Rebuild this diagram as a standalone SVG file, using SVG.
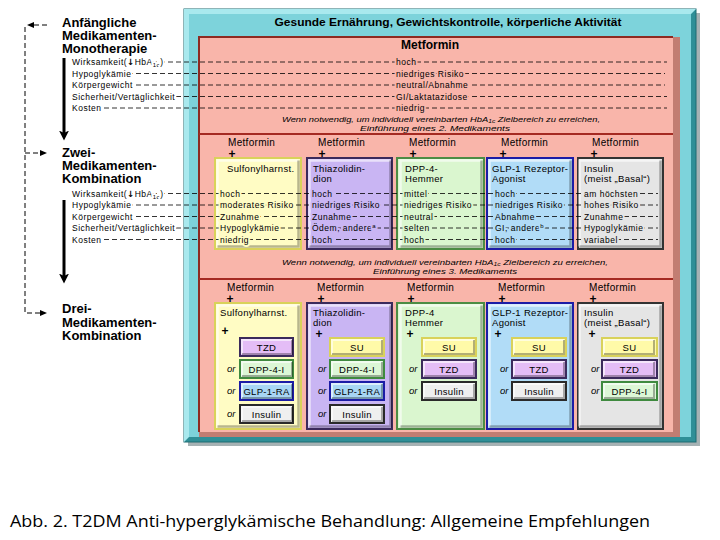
<svg xmlns="http://www.w3.org/2000/svg" width="720" height="540" viewBox="0 0 720 540">
<defs>
<style>
text{font-family:"Liberation Sans",Arial,sans-serif;fill:#000}
.ttl{font-size:13px;font-weight:bold}
.sm{font-size:8.5px;letter-spacing:0.5px}
.md{font-size:9.5px;letter-spacing:0.3px}
.mf{font-size:10px;letter-spacing:0.3px}
.pl{font-size:12px;font-weight:bold;text-anchor:middle}
.it{font-size:7.8px;font-style:italic;text-anchor:middle}
.or{font-size:9.5px;font-style:italic}
.sb{font-size:9.5px;letter-spacing:0.3px;text-anchor:middle}
.dash{stroke:#000;stroke-width:0.8;stroke-dasharray:5 3;fill:none}
.ldash{stroke:#000;stroke-width:1;stroke-dasharray:5 3;fill:none}
.mk{stroke-width:4px;stroke-linejoin:round;paint-order:stroke}
.mw{stroke:#fff}.ms{stroke:#f9b5aa}.my{stroke:#fffcc4}.mp{stroke:#c9b5f3}.mg{stroke:#daf6cf}.mb{stroke:#b1dcf7}.mgr{stroke:#e5e5e5}
.hl{fill:none;stroke:rgba(255,255,255,0.6);stroke-width:2.5}
.sh{fill:none;stroke:rgba(0,0,0,0.28);stroke-width:2.5}
.hl2{fill:none;stroke:rgba(255,255,255,0.6);stroke-width:2}
.sh2{fill:none;stroke:rgba(0,0,0,0.3);stroke-width:2}
.yel{fill:#fffcc4;stroke:#d9d25a;stroke-width:2}
.pur{fill:#c9b5f3;stroke:#3b2a5c;stroke-width:2}
.grn{fill:#daf6cf;stroke:#4c8c44;stroke-width:2}
.blu{fill:#b1dcf7;stroke:#1c1ca6;stroke-width:2}
.gry{fill:#e5e5e5;stroke:#333;stroke-width:2}
.su{fill:#fffaa8;stroke:#d9d25a;stroke-width:2}
.tzd{fill:#e4bdf6;stroke:#3b2a5c;stroke-width:2}
.dpp{fill:#dcf7d6;stroke:#3f8a3f;stroke-width:2}
.glp{fill:#a8d6f4;stroke:#1c1ca6;stroke-width:2}
.ins{fill:#efefef;stroke:#2a2a2a;stroke-width:2}
.red{stroke:#a52a22;stroke-width:2}
</style>
<g id="bevM"><path class="hl" d="M2.5,88.5 V2.5 H83.5"/><path class="sh" d="M2.5,88.5 H83.5 V2.5"/></g>
<g id="bevL"><path class="hl" d="M2.5,123.5 V2.5 H83.5"/><path class="sh" d="M2.5,123.5 H83.5 V2.5"/></g>
<g id="bevS"><path class="hl2" d="M2,16 V2 H52"/><path class="sh2" d="M2,16 H52 V2"/></g>
<marker id="al" markerUnits="userSpaceOnUse" markerWidth="7" markerHeight="6" refX="2" refY="3" orient="auto"><path d="M0,0 L7,3 L0,6 z" fill="#000"/></marker>
<marker id="ab" markerUnits="userSpaceOnUse" markerWidth="10" markerHeight="10" refX="2.5" refY="5" orient="auto"><path d="M0,0 L10,5 L0,10 L2.5,5 z" fill="#000"/></marker>
</defs>
<rect width="720" height="540" fill="#fff"/>

<g id="lifestyle">
<rect x="188" y="13" width="512" height="433" fill="#a6b2b4"/>
<rect x="184" y="9" width="512" height="433" fill="#2f8f97" stroke="#1f6a70" stroke-width="1"/>
<polygon points="184,9 696,9 691,14 189,14 189,437 184,442" fill="#a9e9ee"/>
<rect x="189" y="14" width="502" height="423" fill="#7dd3db"/>
<text x="448" y="25.5" style="font-size:11.5px;font-weight:bold" text-anchor="middle" textLength="347" lengthAdjust="spacingAndGlyphs">Gesunde Ernährung, Gewichtskontrolle, körperliche Aktivität</text>
</g>

<g id="metformin">
<rect x="199" y="37" width="481" height="400" fill="#c27d72"/>
<rect x="198" y="36" width="475" height="396" fill="#f9b5aa"/>
<path d="M199,432 V37 H673" fill="none" stroke="#8e2a22" stroke-width="2"/>
<text x="430" y="49" style="font-size:12px;font-weight:bold" text-anchor="middle">Metformin</text>
<text class="it" x="441" y="121.5" textLength="318" lengthAdjust="spacingAndGlyphs">Wenn notwendig, um individuell vereinbarten HbA<tspan dy="1.5" font-size="5.5">1c</tspan><tspan dy="-1.5"> Zielbereich zu erreichen,</tspan></text>
<text class="it" x="435" y="130.5" textLength="150" lengthAdjust="spacingAndGlyphs">Einführung eines 2. Medikaments</text>
<line class="red" x1="199" y1="134" x2="673" y2="134"/>
<text class="it" x="445" y="264.8" textLength="326" lengthAdjust="spacingAndGlyphs">Wenn notwendig, um individuell vereinbarten HbA<tspan dy="1.5" font-size="5.5">1c</tspan><tspan dy="-1.5"> Zielbereich zu erreichen,</tspan></text>
<text class="it" x="445" y="273.8" textLength="144" lengthAdjust="spacingAndGlyphs">Einführung eines 3. Medikaments</text>
<line class="red" x1="199" y1="279" x2="673" y2="279"/>
</g>

<g id="left-labels">
<text class="ttl" x="62" y="27">Anfängliche</text>
<text class="ttl" x="62" y="40">Medikamenten-</text>
<text class="ttl" x="62" y="53">Monotherapie</text>
<text class="ttl" x="62" y="157">Zwei-</text>
<text class="ttl" x="62" y="170">Medikamenten-</text>
<text class="ttl" x="62" y="183">Kombination</text>
<text class="ttl" x="62" y="313">Drei-</text>
<text class="ttl" x="62" y="326.5">Medikamenten-</text>
<text class="ttl" x="62" y="339.5">Kombination</text>
</g>

<g id="dual-boxes">
<g id="m-su"><rect class="yel" x="215" y="158" width="86" height="91"/><use href="#bevM" x="215" y="158"/>
<text class="mf" x="228" y="145.5">Metformin</text><text class="pl" x="232" y="157.5">+</text>
<text class="md" x="227" y="171.5">Sulfonylharnst.</text></g>
<g id="m-tzd"><rect class="pur" x="307" y="158" width="85" height="91"/><use href="#bevM" x="307" y="158"/>
<text class="mf" x="318" y="145.5">Metformin</text><text class="pl" x="322" y="157.5">+</text>
<text class="md" x="313" y="171.5">Thiazolidin-</text><text class="md" x="313" y="181.5">dion</text></g>
<g id="m-dpp"><rect class="grn" x="397" y="158" width="87" height="91"/><use href="#bevM" x="398" y="158"/>
<text class="mf" x="409" y="145.5">Metformin</text><text class="pl" x="413" y="157.5">+</text>
<text class="md" x="405" y="171.5">DPP-4-</text><text class="md" x="405" y="181.5">Hemmer</text></g>
<g id="m-glp"><rect class="blu" x="487" y="158" width="86" height="91"/><use href="#bevM" x="487" y="158"/>
<text class="mf" x="501" y="145.5">Metformin</text><text class="pl" x="503" y="157.5">+</text>
<text class="md" x="492" y="171.5">GLP-1 Rezeptor-</text><text class="md" x="492" y="181.5">Agonist</text></g>
<g id="m-ins"><rect class="gry" x="578" y="158" width="85" height="91"/><use href="#bevM" x="577" y="158"/>
<text class="mf" x="592" y="145.5">Metformin</text><text class="pl" x="594" y="157.5">+</text>
<text class="md" x="584" y="171.5">Insulin</text><text class="md" x="584" y="181.5">(meist „Basal“)</text></g>
</g>

<g id="triple-boxes">
<g id="t-su"><rect class="yel" x="215" y="303" width="86" height="126"/><use href="#bevL" x="215" y="303"/>
<text class="mf" x="227" y="290.5">Metformin</text><text class="pl" x="230" y="302.5">+</text>
<text class="md" x="220" y="316">Sulfonylharnst.</text><text class="pl" x="225" y="334.5">+</text>
<rect class="tzd" x="240" y="338" width="53" height="18"/><use href="#bevS" x="240" y="338"/><text class="sb" x="266.5" y="350.5">TZD</text>
<text class="or" x="227" y="372">or</text><rect class="dpp" x="240" y="360" width="53" height="18"/><use href="#bevS" x="240" y="360"/><text class="sb" x="266.5" y="372.5">DPP-4-I</text>
<text class="or" x="227" y="394">or</text><rect class="glp" x="240" y="382" width="53" height="18"/><use href="#bevS" x="240" y="382"/><text class="sb" x="266.5" y="394.5">GLP-1-RA</text>
<text class="or" x="227" y="417">or</text><rect class="ins" x="240" y="405" width="53" height="18"/><use href="#bevS" x="240" y="405"/><text class="sb" x="266.5" y="417.5">Insulin</text></g>

<g id="t-tzd"><rect class="pur" x="307" y="303" width="85" height="126"/><use href="#bevL" x="307" y="303"/>
<text class="mf" x="317" y="290.5">Metformin</text><text class="pl" x="321" y="302.5">+</text>
<text class="md" x="313" y="316">Thiazolidin-</text><text class="md" x="313" y="326">dion</text><text class="pl" x="319" y="337.5">+</text>
<rect class="su" x="330" y="338" width="54" height="18"/><use href="#bevS" x="330" y="338"/><text class="sb" x="357" y="350.5">SU</text>
<text class="or" x="318" y="372">or</text><rect class="dpp" x="330" y="360" width="54" height="18"/><use href="#bevS" x="330" y="360"/><text class="sb" x="357" y="372.5">DPP-4-I</text>
<text class="or" x="318" y="394">or</text><rect class="glp" x="330" y="382" width="54" height="18"/><use href="#bevS" x="330" y="382"/><text class="sb" x="357" y="394.5">GLP-1-RA</text>
<text class="or" x="318" y="417">or</text><rect class="ins" x="330" y="405" width="54" height="18"/><use href="#bevS" x="330" y="405"/><text class="sb" x="357" y="417.5">Insulin</text></g>

<g id="t-dpp"><rect class="grn" x="397" y="303" width="87" height="126"/><use href="#bevL" x="398" y="303"/>
<text class="mf" x="407" y="290.5">Metformin</text><text class="pl" x="411" y="302.5">+</text>
<text class="md" x="405" y="316">DPP-4</text><text class="md" x="405" y="326">Hemmer</text><text class="pl" x="410" y="337.5">+</text>
<rect class="su" x="422" y="338" width="54" height="18"/><use href="#bevS" x="422" y="338"/><text class="sb" x="449" y="350.5">SU</text>
<text class="or" x="409" y="372">or</text><rect class="tzd" x="422" y="360" width="54" height="18"/><use href="#bevS" x="422" y="360"/><text class="sb" x="449" y="372.5">TZD</text>
<text class="or" x="409" y="394">or</text><rect class="ins" x="422" y="382" width="54" height="18"/><use href="#bevS" x="422" y="382"/><text class="sb" x="449" y="394.5">Insulin</text></g>

<g id="t-glp"><rect class="blu" x="487" y="303" width="86" height="126"/><use href="#bevL" x="487" y="303"/>
<text class="mf" x="498" y="290.5">Metformin</text><text class="pl" x="502" y="302.5">+</text>
<text class="md" x="492" y="316">GLP-1 Rezeptor-</text><text class="md" x="492" y="326">Agonist</text><text class="pl" x="498" y="337.5">+</text>
<rect class="su" x="512" y="338" width="54" height="18"/><use href="#bevS" x="512" y="338"/><text class="sb" x="539" y="350.5">SU</text>
<text class="or" x="500" y="372">or</text><rect class="tzd" x="512" y="360" width="54" height="18"/><use href="#bevS" x="512" y="360"/><text class="sb" x="539" y="372.5">TZD</text>
<text class="or" x="500" y="394">or</text><rect class="ins" x="512" y="382" width="54" height="18"/><use href="#bevS" x="512" y="382"/><text class="sb" x="539" y="394.5">Insulin</text></g>

<g id="t-ins"><rect class="gry" x="578" y="303" width="85" height="126"/><use href="#bevL" x="577" y="303"/>
<text class="mf" x="589" y="290.5">Metformin</text><text class="pl" x="593" y="302.5">+</text>
<text class="md" x="584" y="316">Insulin</text><text class="md" x="584" y="326">(meist „Basal“)</text><text class="pl" x="592" y="337.5">+</text>
<rect class="su" x="602" y="338" width="55" height="18"/><use href="#bevS" x="602" y="338"/><text class="sb" x="629.5" y="350.5">SU</text>
<text class="or" x="591" y="372">or</text><rect class="tzd" x="602" y="360" width="55" height="18"/><use href="#bevS" x="602" y="360"/><text class="sb" x="629.5" y="372.5">TZD</text>
<text class="or" x="591" y="394">or</text><rect class="dpp" x="602" y="382" width="55" height="18"/><use href="#bevS" x="602" y="382"/><text class="sb" x="629.5" y="394.5">DPP-4-I</text></g>
</g>

<g id="connectors">
<line class="dash" x1="72" y1="62" x2="667" y2="62"/>
<line class="dash" x1="72" y1="73.5" x2="665" y2="73.5"/>
<line class="dash" x1="72" y1="85" x2="665" y2="85"/>
<line class="dash" x1="72" y1="96.5" x2="667" y2="96.5"/>
<line class="dash" x1="72" y1="108" x2="667" y2="108"/>
<line class="dash" x1="72" y1="193.5" x2="658" y2="193.5"/>
<line class="dash" x1="72" y1="205" x2="658" y2="205"/>
<line class="dash" x1="72" y1="216.5" x2="658" y2="216.5"/>
<line class="dash" x1="72" y1="228" x2="658" y2="228"/>
<line class="dash" x1="72" y1="239.5" x2="658" y2="239.5"/>
<path class="ldash" d="M47,25 H32" marker-end="url(#al)"/>
<path class="ldash" d="M25,27 V313 H42" marker-end="url(#al)"/>
<path class="ldash" d="M25,153 H42" marker-end="url(#al)"/>
<line x1="64" y1="58" x2="64" y2="133" stroke="#000" stroke-width="3" marker-end="url(#ab)"/>
<line x1="64" y1="200" x2="64" y2="276" stroke="#000" stroke-width="3" marker-end="url(#ab)"/>
</g>

<g id="row-texts">
<g class="sm">
<text class="mk mw" x="72" y="65">Wirksamkeit(<tspan font-family="DejaVu Sans" font-weight="bold">↓</tspan>HbA<tspan dy="2" font-size="6">1c</tspan><tspan dy="-2">)</tspan></text>
<text class="mk mw" x="72" y="76.5">Hypoglykämie</text>
<text class="mk mw" x="72" y="88">Körpergewicht</text>
<text class="mk mw" x="72" y="99.5">Sicherheit/Vertäglichkeit</text>
<text class="mk mw" x="72" y="111">Kosten</text>
<text class="mk ms" x="396" y="65">hoch</text>
<text class="mk ms" x="396" y="76.5">niedriges Risiko</text>
<text class="mk ms" x="396" y="88">neutral/Abnahme</text>
<text class="mk ms" x="396" y="99.5">GI/Laktatazidose</text>
<text class="mk ms" x="396" y="111">niedrig</text>

<text class="mk mw" x="72" y="196.5">Wirksamkeit(<tspan font-family="DejaVu Sans" font-weight="bold">↓</tspan>HbA<tspan dy="2" font-size="6">1c</tspan><tspan dy="-2">)</tspan></text>
<text class="mk mw" x="72" y="208">Hypoglykämie</text>
<text class="mk mw" x="72" y="219.5">Körpergewicht</text>
<text class="mk mw" x="72" y="231">Sicherheit/Vertäglichkeit</text>
<text class="mk mw" x="72" y="242.5">Kosten</text>

<text class="mk my" x="220" y="196.5">hoch</text>
<text class="mk my" x="220" y="208">moderates Risiko</text>
<text class="mk my" x="220" y="219.5">Zunahme</text>
<text class="mk my" x="220" y="231">Hypoglykämie</text>
<text class="mk my" x="220" y="242.5">niedrig</text>

<text class="mk mp" x="312" y="196.5">hoch</text>
<text class="mk mp" x="312" y="208">niedriges Risiko</text>
<text class="mk mp" x="312" y="219.5">Zunahme</text>
<text class="mk mp" x="312" y="231">Ödem, andere<tspan dy="-3" font-size="6">a</tspan></text>
<text class="mk mp" x="312" y="242.5">hoch</text>

<text class="mk mg" x="404" y="196.5">mittel</text>
<text class="mk mg" x="404" y="208">niedriges Risiko</text>
<text class="mk mg" x="404" y="219.5">neutral</text>
<text class="mk mg" x="404" y="231">selten</text>
<text class="mk mg" x="404" y="242.5">hoch</text>

<text class="mk mb" x="495" y="196.5">hoch</text>
<text class="mk mb" x="495" y="208">niedriges Risiko</text>
<text class="mk mb" x="495" y="219.5">Abnahme</text>
<text class="mk mb" x="495" y="231">GI, andere<tspan dy="-3" font-size="6">b</tspan></text>
<text class="mk mb" x="495" y="242.5">hoch</text>

<text class="mk mgr" x="584" y="196.5">am höchsten</text>
<text class="mk mgr" x="584" y="208">hohes Risiko</text>
<text class="mk mgr" x="584" y="219.5">Zunahme</text>
<text class="mk mgr" x="584" y="231">Hypoglykämie</text>
<text class="mk mgr" x="584" y="242.5">variabel</text>
</g>
</g>

<text x="10" y="527" style="font-family:'Open Sans','Liberation Sans',sans-serif;font-size:17px" textLength="640" lengthAdjust="spacingAndGlyphs">Abb. 2. T2DM Anti-hyperglykämische Behandlung: Allgemeine Empfehlungen</text>
</svg>
